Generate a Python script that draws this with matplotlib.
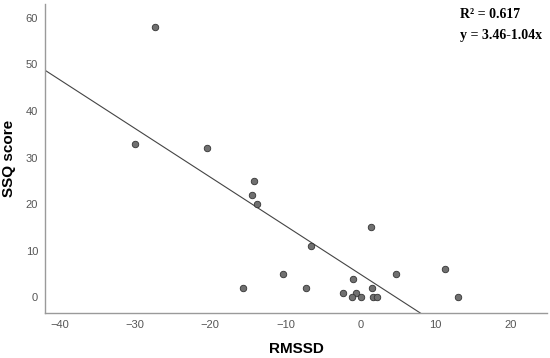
import numpy as np
import matplotlib
matplotlib.use("Agg")
import matplotlib.pyplot as plt

rmssd = [-27.3, -30.05, -20.5, -14.2, -14.5, -13.85, -15.6, -6.6, -10.35, -7.3,
         -0.98, -2.4, -0.6, -1.1, 0.0, 1.33, 1.46, 1.64, 2.17, 4.66, 11.2, 12.96]
ssq = [58, 33, 32, 25, 22, 20, 2, 11, 5, 2,
       4, 1, 1, 0, 0, 15, 2, 0, 0, 5, 6, 0]
xticks = [-40, -30, -20, -10, 0, 10, 20]
yticks = [0, 10, 20, 30, 40, 50, 60]
annot = ["R\u00b2 = 0.617", "y = 3.46-1.04x"]

x = np.array(rmssd)
y = np.array(ssq)
slope, intercept = np.polyfit(x, y, 1)

fig = plt.figure(figsize=(5.5, 3.58), dpi=100)
ax = fig.add_axes([0.0818, 0.1265, 0.9127, 0.8625])

xmin, xmax = -42.0, 24.8
ymin, ymax = -3.3, 63.0
xs = np.array([xmin, xmax])
ax.plot(xs, intercept + slope * xs, color="#444444", lw=0.8, zorder=2)
ax.scatter(x, y, s=22, facecolor="#707070", edgecolor="#333333", linewidth=0.6, zorder=3)

ax.set_xlim(xmin, xmax)
ax.set_ylim(ymin, ymax)
ax.set_xticks(xticks)
ax.set_yticks(yticks)
ax.tick_params(length=0, labelsize=8, labelcolor="#555555", pad=5)
for lab in ax.get_xticklabels() + ax.get_yticklabels():
    lab.set_family("Liberation Sans")
for s in ["top", "right"]:
    ax.spines[s].set_visible(False)
for s in ["left", "bottom"]:
    ax.spines[s].set_color("#9a9a9a")
    ax.spines[s].set_linewidth(1.0)

ax.set_xlabel("RMSSD", fontsize=11, fontweight="bold", family="Liberation Sans", labelpad=9)
ax.set_ylabel("SSQ score", fontsize=11, fontweight="bold", family="Liberation Sans", labelpad=7)

fig.text(460/550, 1 - 15/358, annot[0], fontsize=10, fontweight="bold",
         family="Liberation Serif", va="center", ha="left")
fig.text(460/550, 1 - 36/358, annot[1], fontsize=10, fontweight="bold",
         family="Liberation Serif", va="center", ha="left")

fig.savefig("out.png", dpi=100)
